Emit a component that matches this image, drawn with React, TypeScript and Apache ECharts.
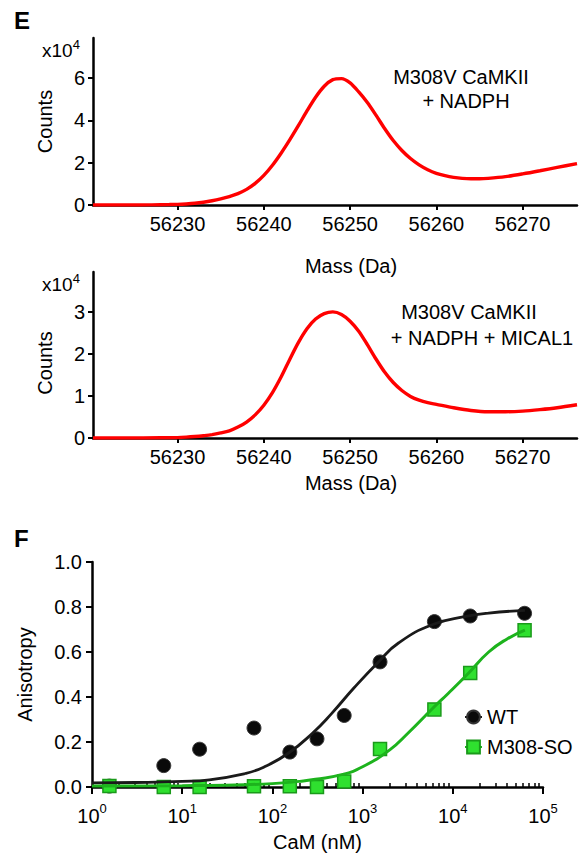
import React, { useEffect, useRef } from 'react';
import * as echarts from 'echarts';

const FONT = "'Liberation Sans', Arial, Helvetica, sans-serif";

// Panel E (top): M308V CaMKII + NADPH, counts in units of 10^4
const massTop = [56220.2, 56224, 56227, 56229, 56230, 56231, 56232, 56233, 56234, 56235, 56236, 56237, 56238, 56239, 56240, 56241, 56242, 56243, 56244, 56245, 56246, 56247, 56248, 56249, 56250, 56251, 56252, 56253, 56254, 56255, 56256, 56257, 56258, 56259, 56260, 56261, 56262, 56263, 56264, 56265, 56266, 56268, 56270, 56272, 56274, 56276.3];
const countsTop = [0, 0, 0.005, 0.02, 0.03, 0.05, 0.08, 0.13, 0.2, 0.29, 0.4, 0.54, 0.74, 1.02, 1.4, 1.88, 2.45, 3.08, 3.75, 4.45, 5.1, 5.62, 5.93, 5.98, 5.78, 5.35, 4.85, 4.25, 3.62, 3.05, 2.58, 2.2, 1.9, 1.67, 1.5, 1.39, 1.31, 1.26, 1.24, 1.24, 1.26, 1.34, 1.47, 1.62, 1.78, 1.96];

// Panel E (middle): M308V CaMKII + NADPH + MICAL1
const massMid = [56220.2, 56224, 56228, 56230, 56231, 56232, 56233, 56234, 56235, 56236, 56237, 56238, 56239, 56240, 56241, 56242, 56243, 56244, 56245, 56246, 56247, 56248, 56249, 56250, 56251, 56252, 56253, 56254, 56255, 56256, 56257, 56258, 56259, 56260, 56262, 56264, 56266, 56268, 56270, 56272, 56274, 56276.3];
const countsMid = [0, 0, 0.005, 0.01, 0.02, 0.035, 0.055, 0.08, 0.12, 0.17, 0.26, 0.38, 0.55, 0.78, 1.08, 1.45, 1.87, 2.27, 2.6, 2.83, 2.96, 3.0, 2.94, 2.78, 2.54, 2.22, 1.88, 1.57, 1.32, 1.13, 0.99, 0.9, 0.84, 0.8, 0.72, 0.655, 0.625, 0.625, 0.64, 0.675, 0.72, 0.79];

const massTicks = [56230, 56240, 56250, 56260, 56270];
const countsTopTicks = [0, 2, 4, 6];
const countsMidTicks = [0, 1, 2, 3];

// Panel F: anisotropy vs CaM (nM)
const camConc = [1.56, 6.25, 15.6, 62.5, 156, 312, 625, 1560, 6250, 15600, 62500];
const wtAniso = [0.004, 0.095, 0.168, 0.262, 0.155, 0.214, 0.318, 0.556, 0.735, 0.76, 0.772];
const soAniso = [0.004, 0.0, 0.0, 0.003, 0.003, 0.0, 0.025, 0.169, 0.345, 0.507, 0.697];

const wtFitConc = [1, 3, 10, 20, 50, 80, 150, 280, 450, 800, 1500, 2500, 6000, 14000, 25000, 63000];
const wtFitAniso = [0.018, 0.02, 0.025, 0.032, 0.06, 0.088, 0.15, 0.24, 0.325, 0.44, 0.556, 0.64, 0.722, 0.758, 0.773, 0.785];
const soFitConc = [1, 10, 30, 100, 200, 300, 600, 1000, 2000, 3200, 6000, 9000, 15000, 25000, 40000, 63000];
const soFitAniso = [0.005, 0.006, 0.008, 0.015, 0.025, 0.034, 0.056, 0.09, 0.165, 0.24, 0.35, 0.418, 0.507, 0.6, 0.658, 0.697];

const decades = [0, 1, 2, 3, 4];
const minorMultipliers = [2, 3, 4, 5, 6, 7, 8, 9];

const pairs = (xs: number[], ys: number[]) => xs.map((x, i) => [x, ys[i]]);

const axisLine = { show: true, onZero: false, lineStyle: { color: '#000', width: 2.5 } };
const tickStyle = { lineStyle: { color: '#000', width: 2 } };
const labelBase = { color: '#000', fontSize: 20, fontFamily: FONT };
const nameStyle = { color: '#000', fontSize: 20, fontFamily: FONT };

export default function App() {
  const ref = useRef<HTMLDivElement>(null);
  useEffect(() => {
    if (!ref.current) return;
    const chart = echarts.init(ref.current, undefined, { renderer: 'svg' });
    const minorTicks = decades.flatMap((d) => minorMultipliers.map((k) => d + Math.log10(k)));
    const supRich = {
      b: { fontSize: 20, lineHeight: 24, verticalAlign: 'bottom', fontFamily: FONT, color: '#000' },
      s: { fontSize: 13, lineHeight: 13, verticalAlign: 'top', fontFamily: FONT, color: '#000' },
    };
    const plain = (v: number) => String(v);
    const option: any = {
      animation: false,
      backgroundColor: '#fff',
      textStyle: { fontFamily: FONT },
      grid: [
        { left: 93, top: 38, width: 484, height: 167, outerBoundsMode: 'none' },
        { left: 93, top: 272, width: 484, height: 166, outerBoundsMode: 'none' },
        { left: 92, top: 562, width: 451, height: 225, outerBoundsMode: 'none' },
      ],
      xAxis: [
        {
          type: 'value', gridIndex: 0, min: 56220.2, max: 56276.3,
          name: 'Mass (Da)', nameLocation: 'middle', nameGap: 51,
          nameTextStyle: { ...nameStyle, padding: [0, 0, 0, 32] },
          axisLine, axisTick: { ...tickStyle, length: 5, customValues: massTicks },
          axisLabel: { ...labelBase, margin: 9, customValues: massTicks, formatter: plain },
          splitLine: { show: false },
        },
        {
          type: 'value', gridIndex: 1, min: 56220.2, max: 56276.3,
          name: 'Mass (Da)', nameLocation: 'middle', nameGap: 35,
          nameTextStyle: { ...nameStyle, padding: [0, 0, 0, 32] },
          axisLine, axisTick: { ...tickStyle, length: 5, customValues: massTicks },
          axisLabel: { ...labelBase, margin: 9, customValues: massTicks, formatter: plain },
          splitLine: { show: false },
        },
        {
          type: 'log', gridIndex: 2, min: 1, max: 100000, logBase: 10,
          name: 'CaM (nM)', nameLocation: 'middle', nameGap: 45,
          nameTextStyle: nameStyle,
          axisLine, axisTick: { ...tickStyle, length: 7 },
          axisLabel: {
            ...labelBase, margin: 15,
            formatter: (v: number) => '{b|10}{s|' + Math.round(Math.log10(v)) + '}',
            rich: supRich,
          },
          splitLine: { show: false },
          minorTick: { show: false },
        },
        {
          type: 'value', gridIndex: 2, min: 0, max: 5,
          axisLine: { show: false },
          axisTick: { show: true, length: 4, lineStyle: { color: '#000', width: 1.5 }, customValues: minorTicks },
          axisLabel: { show: false },
          splitLine: { show: false },
        },
      ],
      yAxis: [
        {
          type: 'value', gridIndex: 0, min: 0, max: 7.9,
          name: 'Counts', nameLocation: 'middle', nameGap: 38, nameRotate: 90,
          nameTextStyle: nameStyle,
          axisLine, axisTick: { show: true, ...tickStyle, length: 5, customValues: countsTopTicks },
          axisLabel: { ...labelBase, margin: 8, customValues: countsTopTicks },
          splitLine: { show: false },
        },
        {
          type: 'value', gridIndex: 1, min: 0, max: 3.95,
          name: 'Counts', nameLocation: 'middle', nameGap: 38, nameRotate: 90,
          nameTextStyle: { ...nameStyle, padding: [0, 16, 0, 0] },
          axisLine, axisTick: { show: true, ...tickStyle, length: 5, customValues: countsMidTicks },
          axisLabel: { ...labelBase, margin: 8, customValues: countsMidTicks },
          splitLine: { show: false },
        },
        {
          type: 'value', gridIndex: 2, min: 0, max: 1, interval: 0.2,
          name: 'Anisotropy', nameLocation: 'middle', nameGap: 57, nameRotate: 90,
          nameTextStyle: nameStyle,
          axisLine, axisTick: { show: true, ...tickStyle, length: 6 },
          axisLabel: { ...labelBase, margin: 10, formatter: (v: number) => v.toFixed(1) },
          splitLine: { show: false },
        },
      ],
      legend: {
        data: ['WT', 'M308-SO'],
        orient: 'vertical',
        left: 464, top: 707, padding: 0,
        itemWidth: 17, itemHeight: 16, itemGap: 10,
        textStyle: { color: '#000', fontSize: 20, fontFamily: FONT },
        selectedMode: false,
      },
      series: [
        {
          name: 'E top', type: 'line', xAxisIndex: 0, yAxisIndex: 0,
          data: pairs(massTop, countsTop), smooth: 0.3, showSymbol: false, symbol: 'none',
          lineStyle: { color: '#ff0000', width: 3.4 },
        },
        {
          name: 'E mid', type: 'line', xAxisIndex: 1, yAxisIndex: 1,
          data: pairs(massMid, countsMid), smooth: 0.3, showSymbol: false, symbol: 'none',
          lineStyle: { color: '#ff0000', width: 3.4 },
        },
        {
          name: 'WT', type: 'line', xAxisIndex: 2, yAxisIndex: 2,
          data: pairs(wtFitConc, wtFitAniso), smooth: true, showSymbol: false,
          symbol: 'circle', symbolSize: 13,
          lineStyle: { color: '#1a1a1a', width: 2.8 },
          itemStyle: { color: '#0a0a0a', borderColor: '#333', borderWidth: 1 },
        },
        {
          name: 'M308-SO', type: 'line', xAxisIndex: 2, yAxisIndex: 2,
          data: pairs(soFitConc, soFitAniso), smooth: true, showSymbol: false,
          symbol: 'rect', symbolSize: 13,
          lineStyle: { color: '#1db31d', width: 3 },
          itemStyle: { color: '#2fe02f', borderColor: '#1a9a1a', borderWidth: 1.5 },
        },
        {
          name: 'WT', type: 'scatter', xAxisIndex: 2, yAxisIndex: 2,
          data: pairs(camConc, wtAniso), symbol: 'circle', symbolSize: 14,
          itemStyle: { color: '#0a0a0a', borderColor: '#3a3a3a', borderWidth: 1, opacity: 1 },
        },
        {
          name: 'M308-SO', type: 'scatter', xAxisIndex: 2, yAxisIndex: 2,
          data: pairs(camConc, soAniso), symbol: 'rect', symbolSize: 13,
          itemStyle: { color: '#2fe02f', borderColor: '#1a9a1a', borderWidth: 1.5, opacity: 1 },
        },
      ],
      graphic: [
        { type: 'text', x: 14, y: 8, style: { text: 'E', font: `bold 24px ${FONT}`, fill: '#000' } },
        { type: 'text', x: 14, y: 526, style: { text: 'F', font: `bold 24px ${FONT}`, fill: '#000' } },
        {
          type: 'text', x: 42, y: 38,
          style: {
            text: '{a|x10}{b|4}',
            rich: {
              a: { fontSize: 19, lineHeight: 22, verticalAlign: 'bottom', fontFamily: FONT, fill: '#000' },
              b: { fontSize: 13, lineHeight: 13, verticalAlign: 'top', fontFamily: FONT, fill: '#000' },
            },
          },
        },
        {
          type: 'text', x: 42, y: 272,
          style: {
            text: '{a|x10}{b|4}',
            rich: {
              a: { fontSize: 19, lineHeight: 22, verticalAlign: 'bottom', fontFamily: FONT, fill: '#000' },
              b: { fontSize: 13, lineHeight: 13, verticalAlign: 'top', fontFamily: FONT, fill: '#000' },
            },
          },
        },
        { type: 'text', x: 461, y: 77, style: { text: 'M308V CaMKII', font: `20px ${FONT}`, fill: '#000', align: 'center', verticalAlign: 'middle' } },
        { type: 'text', x: 466, y: 101, style: { text: '+ NADPH', font: `20px ${FONT}`, fill: '#000', align: 'center', verticalAlign: 'middle' } },
        { type: 'text', x: 469, y: 312, style: { text: 'M308V CaMKII', font: `20px ${FONT}`, fill: '#000', align: 'center', verticalAlign: 'middle' } },
        { type: 'text', x: 482, y: 338, style: { text: '+ NADPH + MICAL1', font: `20px ${FONT}`, fill: '#000', align: 'center', verticalAlign: 'middle' } },
      ],
    };
    chart.setOption(option);
    return () => chart.dispose();
  }, []);
  return (
    <div
      ref={ref}
      style={{ position: 'fixed', left: 0, top: 0, width: 585, height: 857, background: '#fff' }}
    />
  );
}
